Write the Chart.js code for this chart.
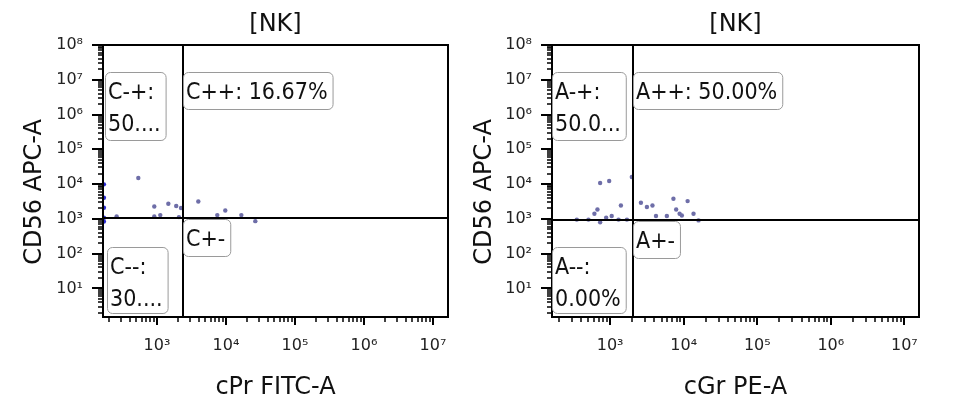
<!DOCTYPE html>
<html><head><meta charset="utf-8">
<script src="https://cdn.jsdelivr.net/npm/chart.js@4.4.1/dist/chart.umd.min.js"></script>
<style>
html,body{margin:0;padding:0;background:#fff;}
#w{position:relative;width:962px;height:403px;overflow:hidden;background:#fff;}
#c1{position:absolute;left:0;top:0;}
#c2{position:absolute;left:460px;top:0;}
</style></head><body>
<div id="w"><canvas id="c1" width="460" height="403"></canvas><canvas id="c2" width="502" height="403"></canvas></div>
<script>
// ---- tick values / labels ----
const xTickValues = [1e3, 1e4, 1e5, 1e6, 1e7];
const xTickLabels = ['10³', '10⁴', '10⁵', '10⁶', '10⁷'];
const yTickValues = [1e1, 1e2, 1e3, 1e4, 1e5, 1e6, 1e7, 1e8];
const yTickLabels = ['10¹', '10²', '10³', '10⁴', '10⁵', '10⁶', '10⁷', '10⁸'];

// ---- left panel (cPr FITC-A) ----
const leftTitle = '[NK]';
const leftXTitle = 'cPr FITC-A';
const leftYTitle = 'CD56 APC-A';
const leftGate = [2400, 1070];
const leftX = [536, 914, 1460, 1900, 2230, 914, 1116, 2080, 3970, 7480, 9770, 16700, 26600, 260];
const leftY = [15000, 2270, 2720, 2330, 2040, 1165, 1280, 1120, 3160, 1280, 1740, 1280, 858, 1165];
const leftEdgeX = [170, 170, 170, 170, 170];
const leftEdgeY = [9800, 4050, 2080, 1070, 835];
const leftQuadLabels = ['C-+:\n50....', 'C++: 16.67%', 'C+-', 'C--:\n30....'];

// ---- right panel (cGr PE-A) ----
const rightTitle = '[NK]';
const rightXTitle = 'cGr PE-A';
const rightYTitle = 'CD56 APC-A';
const rightGate = [2050, 900];
const rightX = [731, 970, 1970, 1400, 672, 611, 1050, 883, 731, 2620, 3160, 3760, 4200, 5900, 7250, 7900, 8800, 9440, 11300, 13600, 15900, 352, 507, 1300, 1690];
const rightY = [10700, 12300, 16000, 2420, 1850, 1400, 1200, 1070, 800, 2900, 2180, 2420, 1200, 1200, 3780, 1850, 1400, 1250, 3240, 1400, 900, 950, 950, 950, 950];
const rightQuadLabels = ['A-+:\n50.0...', 'A++: 50.00%', 'A+-', 'A--:\n0.00%'];

const FONT = "'DejaVu Sans', sans-serif";
const LABEL_FONT = "'DejaVu Sans Condensed', 'DejaVu Sans', sans-serif";

const deco = {
  id: 'deco',
  afterDatasetsDraw(chart, args, o) {
    const ctx = chart.ctx, a = chart.chartArea, xs = chart.scales.x, ys = chart.scales.y;
    ctx.save();
    ctx.strokeStyle = '#000';
    const decades = (s) => { const r = []; for (let e = Math.floor(Math.log10(s.min)); e <= Math.ceil(Math.log10(s.max)); e++) r.push(e); return r; };
    for (const e of decades(xs)) for (let m = 1; m <= 9; m++) {
      const v = m * Math.pow(10, e); if (v < xs.min || v > xs.max) continue;
      const p = Math.round(xs.getPixelForValue(v));
      ctx.lineWidth = m === 1 ? 2 : 1.5;
      ctx.beginPath(); ctx.moveTo(p, a.bottom); ctx.lineTo(p, a.bottom + (m === 1 ? 8 : 5)); ctx.stroke();
    }
    for (const e of decades(ys)) for (let m = 1; m <= 9; m++) {
      const v = m * Math.pow(10, e); if (v < ys.min || v > ys.max) continue;
      const p = Math.round(ys.getPixelForValue(v));
      ctx.lineWidth = m === 1 ? 2 : 1.5;
      ctx.beginPath(); ctx.moveTo(a.left, p); ctx.lineTo(a.left - (m === 1 ? 11 : 5), p); ctx.stroke();
    }
    ctx.lineWidth = 2;
    ctx.strokeRect(a.left, a.top, a.right - a.left, a.bottom - a.top);
    const gx = Math.round(xs.getPixelForValue(o.gate[0]));
    const gy = Math.round(ys.getPixelForValue(o.gate[1]));
    ctx.beginPath(); ctx.moveTo(gx, a.top); ctx.lineTo(gx, a.bottom); ctx.stroke();
    ctx.beginPath(); ctx.moveTo(a.left, gy); ctx.lineTo(a.right, gy); ctx.stroke();
    ctx.font = '23px ' + LABEL_FONT;
    const box = (txt, x, y, h) => {
      const lines = txt.split('\n');
      const w = Math.max(...lines.map(l => ctx.measureText(l).width)) + 8;
      ctx.beginPath(); ctx.roundRect(x + 0.5, y + 0.5, w, h, 5);
      ctx.fillStyle = '#fff'; ctx.fill();
      ctx.lineWidth = 1; ctx.strokeStyle = '#9a9a9a'; ctx.stroke();
      ctx.fillStyle = '#111'; ctx.textAlign = 'left'; ctx.textBaseline = 'alphabetic';
      lines.forEach((l, i) => ctx.fillText(l, x + 3, y + 27 + i * 32));
    };
    const q = o.labels;
    box(q[0], a.left + o.lx, a.top + 27, 68);
    box(q[1], gx, a.top + 27, 37);
    box(q[2], gx, gy + 1, 37);
    box(q[3], a.left + o.lx2, a.bottom - 70, 66);
    ctx.font = '24px ' + FONT;
    ctx.fillStyle = '#111'; ctx.textAlign = 'center'; ctx.textBaseline = 'middle';
    ctx.fillText(o.title, (a.left + a.right) / 2, 25);
    // y axis title
    ctx.translate(o.ytx, 192);
    ctx.rotate(-Math.PI / 2);
    ctx.fillText(o.ytitle, 0, 0);
    ctx.restore();
  }
};

function make(id, cfg) {
  return new Chart(document.getElementById(id), {
    type: 'scatter',
    data: { datasets: [
      { data: cfg.px.map((v, i) => ({ x: v, y: cfg.py[i] })), pointRadius: 2.2, pointBackgroundColor: '#6e6ea8', pointBorderWidth: 0 },
      { data: (cfg.ex || []).map((v, i) => ({ x: v, y: cfg.ey[i] })), pointRadius: 2.2, pointBackgroundColor: '#2b2bd0', pointBorderWidth: 0 }
    ] },
    options: {
      responsive: false, animation: false, devicePixelRatio: 1,
      layout: { padding: { left: 0, right: cfg.padR, top: 45, bottom: 0 } },
      plugins: { legend: { display: false }, tooltip: { enabled: false },
        deco: { gate: cfg.gate, labels: cfg.labels, title: cfg.title, lx: cfg.lx, lx2: cfg.lx2, ytitle: cfg.yTitle, ytx: cfg.ytx } },
      scales: {
        x: { type: 'logarithmic', min: cfg.xmin, max: cfg.xmax,
          afterBuildTicks: s => { s.ticks = xTickValues.map(v => ({ value: v })); },
          afterFit: s => { s.height = 86; },
          grid: { display: false }, border: { display: false },
          ticks: { callback: v => xTickLabels[xTickValues.indexOf(v)], font: { family: FONT, size: 16 }, color: '#222', padding: 11, maxRotation: 0, autoSkip: false },
          title: { display: true, text: cfg.xTitle, font: { family: FONT, size: 24 }, color: '#111', padding: { top: 0, bottom: 1 } } },
        y: { type: 'logarithmic', min: 1.5, max: 1e8,
          afterBuildTicks: s => { s.ticks = yTickValues.map(v => ({ value: v })); },
          afterFit: s => { s.width = cfg.yw; },
          grid: { display: false }, border: { display: false },
          ticks: { callback: v => yTickLabels[yTickValues.indexOf(v)], font: { family: FONT, size: 16 }, color: '#222', padding: 12, autoSkip: false },
          title: { display: false } }
      }
    },
    plugins: [deco]
  });
}

make('c1', { px: leftX, py: leftY, ex: leftEdgeX, ey: leftEdgeY, gate: leftGate, labels: leftQuadLabels, title: leftTitle,
  xTitle: leftXTitle, yTitle: leftYTitle, xmin: 165, xmax: 1.65e7, padR: 12, yw: 103, ytx: 35, lx: 2, lx2: 4 });
make('c2', { px: rightX, py: rightY, gate: rightGate, labels: rightQuadLabels, title: rightTitle,
  xTitle: rightXTitle, yTitle: rightYTitle, xmin: 162, xmax: 1.58e7, padR: 43, yw: 92, ytx: 25, lx: 0, lx2: 0 });
</script>
</body></html>
